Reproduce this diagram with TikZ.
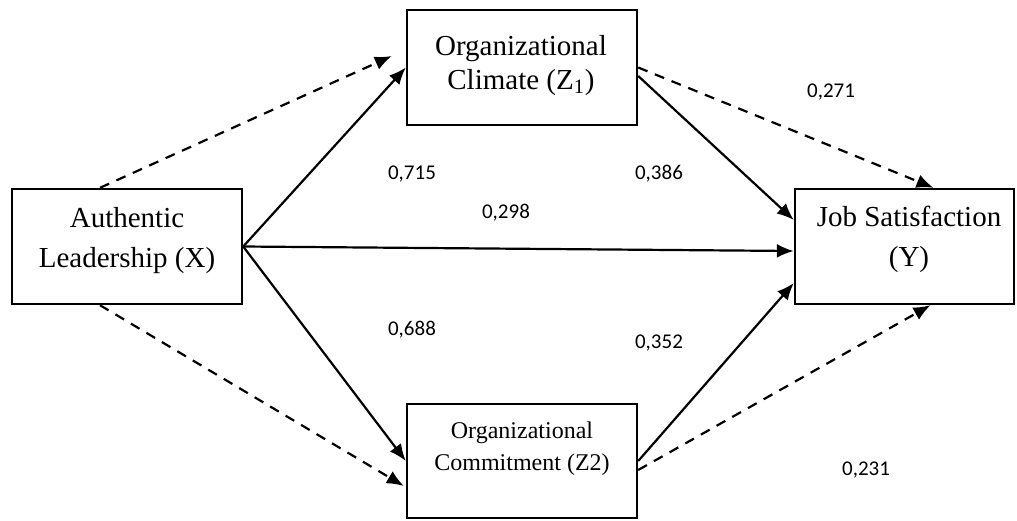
\documentclass[tikz,border=0pt]{standalone}
\usepackage{fontspec}
\setmainfont{Liberation Serif}
\newfontfamily\coeffont{Carlito}
\usetikzlibrary{positioning, arrows.meta}

\begin{document}
\begin{tikzpicture}[x=0.5pt, y=-0.5pt,
  var/.style={draw, line width=1.2pt, inner sep=0pt, minimum width=115pt, minimum height=57.5pt},
  vartext/.style={align=center, inner sep=0pt, anchor=base, font=\fontsize{14.5}{20}\selectfont},
  effect/.style={line width=1.1pt, -{Latex[length=8.5pt, width=7pt]}},
  indirect/.style={effect, dash pattern=on 5pt off 4pt},
  coef/.style={inner sep=0pt, font=\coeffont\fontsize{10.5}{12}\selectfont}]

\useasboundingbox (0,0) rectangle (1017,520);

% variables
\node[var] (x) at (127,246.5) {};
\node[vartext] (x-text) at (127,267) {Authentic\\Leadership (X)};

\node[var] (z1) at (522,67.5) {};
\node[vartext, font=\fontsize{14.5}{17}\selectfont] (z1-text) at (521,89) {Organizational\\Climate (Z\textsubscript{1})};

\node[var, minimum height=57pt] (z2) at (522,461) {};
\node[vartext, font=\fontsize{12}{16}\selectfont] (z2-text) at (522,470) {Organizational\\Commitment (Z2)};

\node[var, minimum width=109.5pt] (y) at (904.5,246.5) {};
\node[vartext] (y-text) at (909,266) {Job Satisfaction\\(Y)};

% direct effects
\draw[effect] (x.east) -- (z1.west);
\draw[effect] (x.east) -- (z2.west);
\draw[effect] (x.east) -- ([shift={(0,4.5)}]y.west);
\draw[effect] ([shift={(0,8.5)}]z1.east) -- ([shift={(0,-26.5)}]y.west);
\draw[effect] (z2.east) -- ([shift={(0,36.5)}]y.west);

% indirect effects
\draw[indirect] ([shift={(-27,0)}]x.north) -- ([shift={(-14,-11.5)}]z1.west);
\draw[indirect] ([shift={(-27,0)}]x.south) -- ([shift={(-2,25)}]z2.west);
\draw[indirect] (z1.east) -- ([shift={(29,0)}]y.north);
\draw[indirect] ([shift={(0,9)}]z2.east) -- ([shift={(26,0)}]y.south);

% coefficients
\node[coef] (c-xz1) at (412,174) {0,715};
\node[coef] (c-z1y) at (659,174) {0,386};
\node[coef] (c-xy) at (506,213) {0,298};
\node[coef] (c-z1-ind) at (831,92) {0,271};
\node[coef] (c-xz2) at (412,330) {0,688};
\node[coef] (c-z2y) at (659,343) {0,352};
\node[coef] (c-z2-ind) at (866,470) {0,231};

\end{tikzpicture}
\end{document}
